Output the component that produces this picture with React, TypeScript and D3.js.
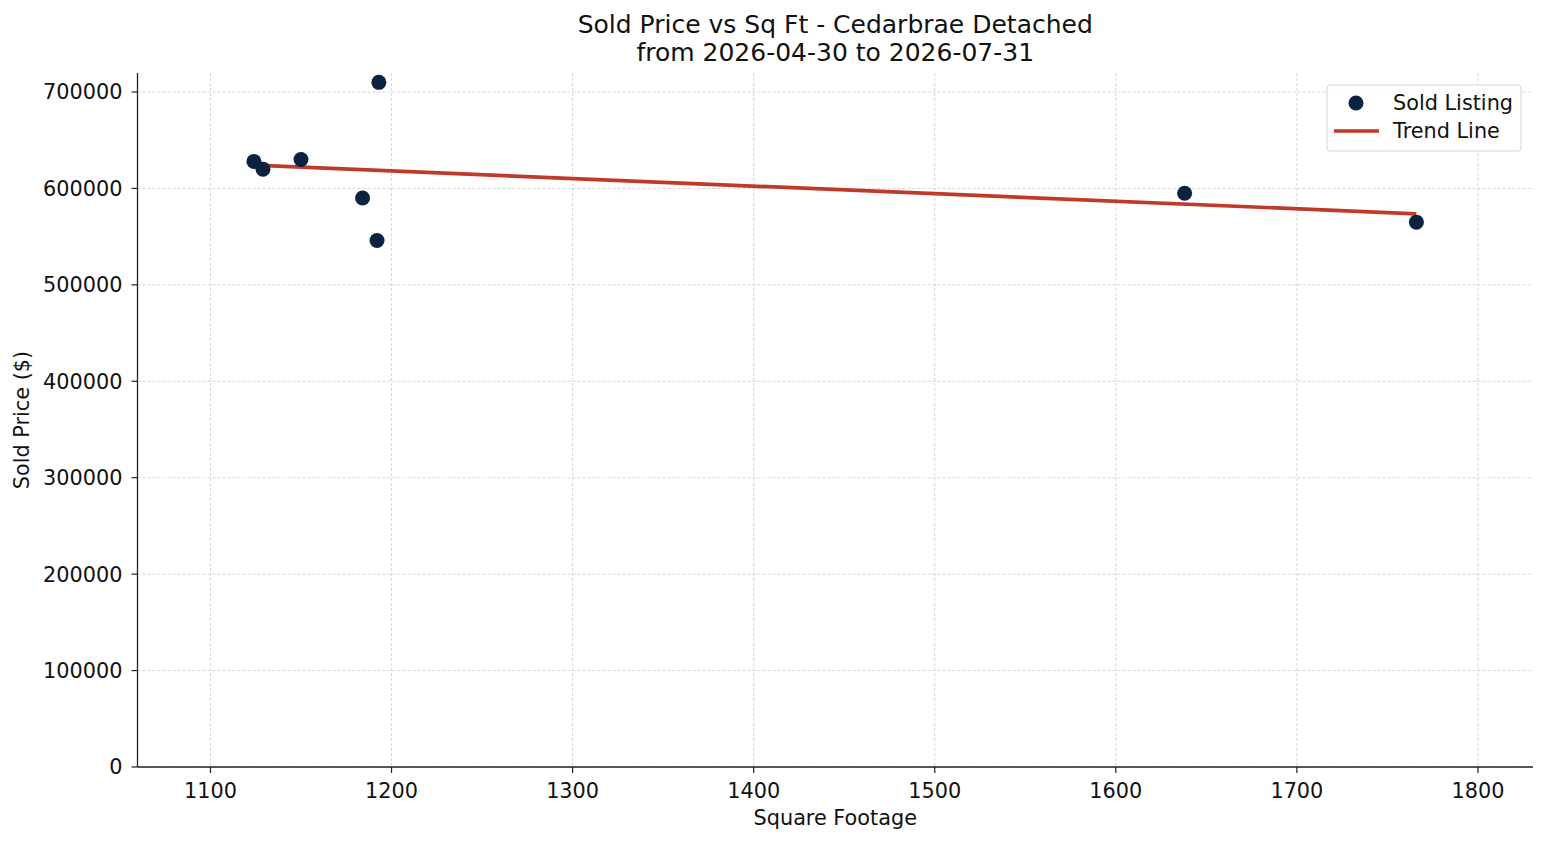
import React from "react";
import * as d3 from "d3";

const sqft = [1124, 1129, 1150, 1184, 1192, 1193, 1638, 1766];
const prices = [628000, 620000, 630000, 590000, 546000, 710000, 595000, 565000];
const xTicks = [1100, 1200, 1300, 1400, 1500, 1600, 1700, 1800];
const yTicks = [0, 100000, 200000, 300000, 400000, 500000, 600000, 700000];
const titleLines = ["Sold Price vs Sq Ft - Cedarbrae Detached", "from 2026-04-30 to 2026-07-31"];

const W = 1547, H = 845;
const L = 137.5, R = 1533, T = 73, B = 767;
const FONT = "DejaVu Sans, sans-serif";
const FS = 20.8;

export default function App() {
  const x = d3.scaleLinear().domain([1059.7, 1830.4]).range([L, R]);
  const y = d3.scaleLinear().domain([0, 719700]).range([B, T]);

  const mx = d3.mean(sqft)!;
  const my = d3.mean(prices)!;
  let sxy = 0, sxx = 0;
  sqft.forEach((v, i) => { sxy += (v - mx) * (prices[i] - my); sxx += (v - mx) * (v - mx); });
  const slope = sxy / sxx;
  const icpt = my - slope * mx;
  const x0 = d3.min(sqft)!, x1 = d3.max(sqft)!;
  const trend: [number, number][] = [[x0, icpt + slope * x0], [x1, icpt + slope * x1]];
  const line = d3.line<[number, number]>().x(d => x(d[0])).y(d => y(d[1]));

  const navy = "#0b2241";
  const red = "#c0392b";

  return (
    <svg width={W} height={H} style={{ position: "absolute", left: 0, top: 0, background: "#fff" }} fontFamily={FONT}>
      <rect width={W} height={H} fill="#fff" />
      {xTicks.map(t => (
        <line key={"gx" + t} x1={x(t)} x2={x(t)} y1={T} y2={B} stroke="#cccccc" strokeWidth={0.8} strokeDasharray="3,2" />
      ))}
      {yTicks.map(t => (
        <line key={"gy" + t} x1={L} x2={R} y1={y(t)} y2={y(t)} stroke="#cccccc" strokeWidth={0.8} strokeDasharray="3,2" />
      ))}
      <path d={line(trend)!} fill="none" stroke={red} strokeWidth={3.7} />
      {sqft.map((v, i) => (
        <circle key={"p" + i} cx={x(v)} cy={y(prices[i])} r={7.5} fill={navy} />
      ))}
      <line x1={L} x2={L} y1={T} y2={B} stroke="#222" strokeWidth={1.3} />
      <line x1={L} x2={R} y1={B} y2={B} stroke="#222" strokeWidth={1.3} />
      {xTicks.map(t => (
        <g key={"xt" + t}>
          <line x1={x(t)} x2={x(t)} y1={B} y2={B + 6} stroke="#222" strokeWidth={1.2} />
          <text x={x(t)} y={797.5} textAnchor="middle" fontSize={FS} fill="#111">{t}</text>
        </g>
      ))}
      {yTicks.map(t => (
        <g key={"yt" + t}>
          <line x1={L - 6} x2={L} y1={y(t)} y2={y(t)} stroke="#222" strokeWidth={1.2} />
          <text x={122.5} y={y(t)} dy="0.36em" textAnchor="end" fontSize={FS} fill="#111">{t}</text>
        </g>
      ))}
      <text x={(L + R) / 2} y={825} textAnchor="middle" fontSize={FS} fill="#111">Square Footage</text>
      <text transform={`translate(29,${(T + B) / 2}) rotate(-90)`} textAnchor="middle" fontSize={FS} fill="#111">Sold Price ($)</text>
      {titleLines.map((s, i) => (
        <text key={"t" + i} x={(L + R) / 2} y={33.3 + i * 27.7} textAnchor="middle" fontSize={25} fill="#111">{s}</text>
      ))}
      <rect x={1327} y={85} width={194} height={66} rx={3} fill="#fff" fillOpacity={0.8} stroke="#d5d5d5" strokeWidth={1} />
      <circle cx={1356} cy={103} r={7.5} fill={navy} />
      <text x={1393} y={103} dy="0.36em" fontSize={FS} fill="#111">Sold Listing</text>
      <line x1={1334} x2={1379} y1={131} y2={131} stroke={red} strokeWidth={3.7} />
      <text x={1393} y={131} dy="0.36em" fontSize={FS} fill="#111">Trend Line</text>
    </svg>
  );
}
